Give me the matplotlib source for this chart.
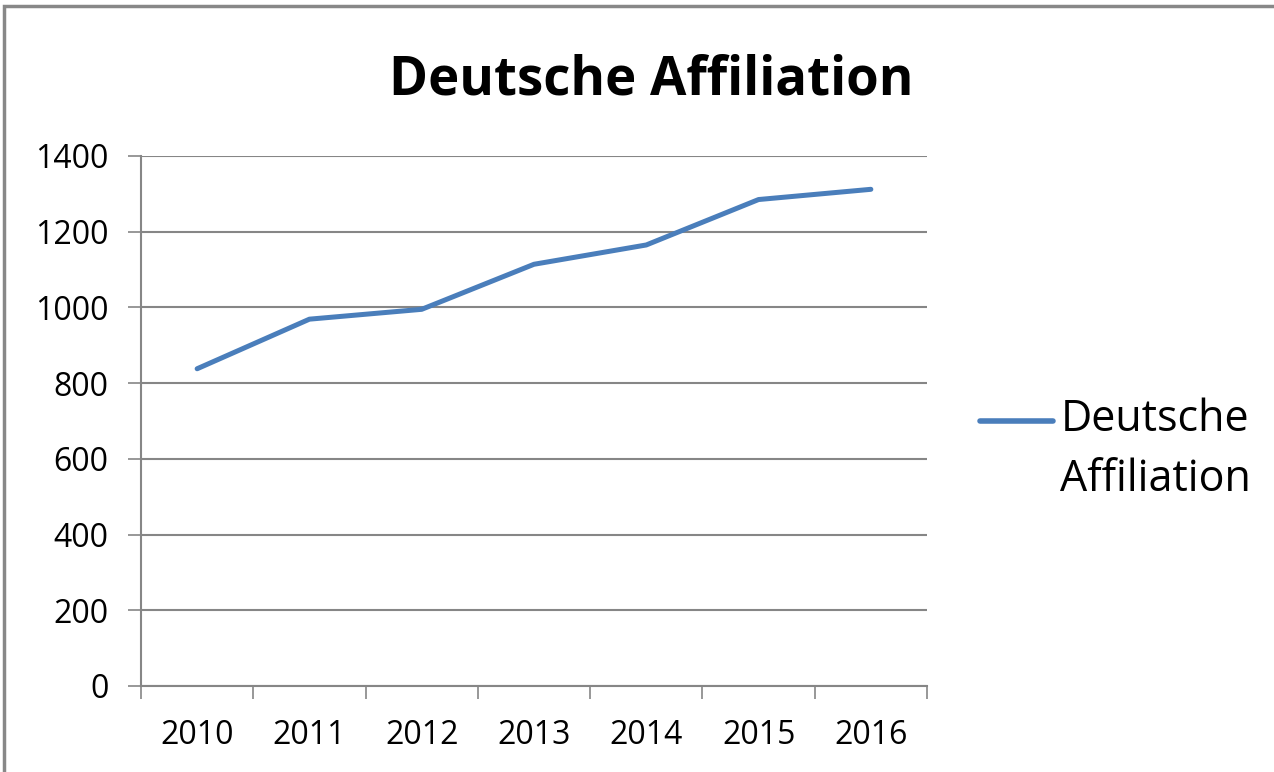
import matplotlib.pyplot as plt
from matplotlib.patches import Rectangle

years = ['2010', '2011', '2012', '2013', '2014', '2015', '2016']
affiliation = [838, 969, 995, 1114, 1165, 1285, 1312]
y_ticks = [0, 200, 400, 600, 800, 1000, 1200, 1400]

plt.rcParams['font.family'] = ['Open Sans', 'DejaVu Sans']

fig = plt.figure(figsize=(12.74, 7.72), dpi=100)
ax = fig.add_axes([141/1274, 86/772, 786/1274, 530/772])

x = list(range(len(years)))
ax.plot(x, affiliation, color='#4A7EBB', linewidth=3.6,
        solid_capstyle='round', label='Deutsche\nAffiliation')

ax.set_ylim(0, 1400)
ax.set_yticks(y_ticks)
ax.set_xlim(-0.5, len(years) - 0.5)
# category boundaries get tick marks, labels sit in between
ax.set_xticks([i - 0.5 for i in range(len(years) + 1)])
ax.set_xticklabels([])
ax.set_xticks(x, minor=True)
ax.set_xticklabels(years, minor=True)

ax.grid(axis='y', color='#868686', linewidth=1.5)
ax.set_axisbelow(True)
for s in ['top', 'right']:
    ax.spines[s].set_visible(False)
for s in ['left', 'bottom']:
    ax.spines[s].set_color('#868686')
    ax.spines[s].set_linewidth(1.5)

ax.tick_params(axis='both', which='major', length=9.4, width=1.2, color='#868686',
               labelsize=23)
ax.tick_params(axis='y', which='major', pad=14)
ax.tick_params(axis='x', which='minor', length=0, labelsize=23, pad=24)

fig.text(0.511, 0.896, 'Deutsche Affiliation', ha='center', va='center',
         fontsize=38, fontweight='bold')

leg = fig.legend(loc='center left', bbox_to_anchor=(963/1274, 1 - 450/772),
                 frameon=False, fontsize=31, handlelength=1.7, handletextpad=0.16,
                 borderaxespad=0)
leg.get_texts()[0].set_linespacing(1.45)
# put the legend line next to the first text line, as in the original
hl = leg.get_lines()[0]
hl.set_linewidth(4)
hl.set_ydata([v + 22 for v in hl.get_ydata()])

fig.patches.append(Rectangle((4/1274, -0.1), 1.2, 1 - 6/772 + 0.1,
                             transform=fig.transFigure, fill=False,
                             edgecolor='#888888', linewidth=2.5))

fig.savefig('out.png')
